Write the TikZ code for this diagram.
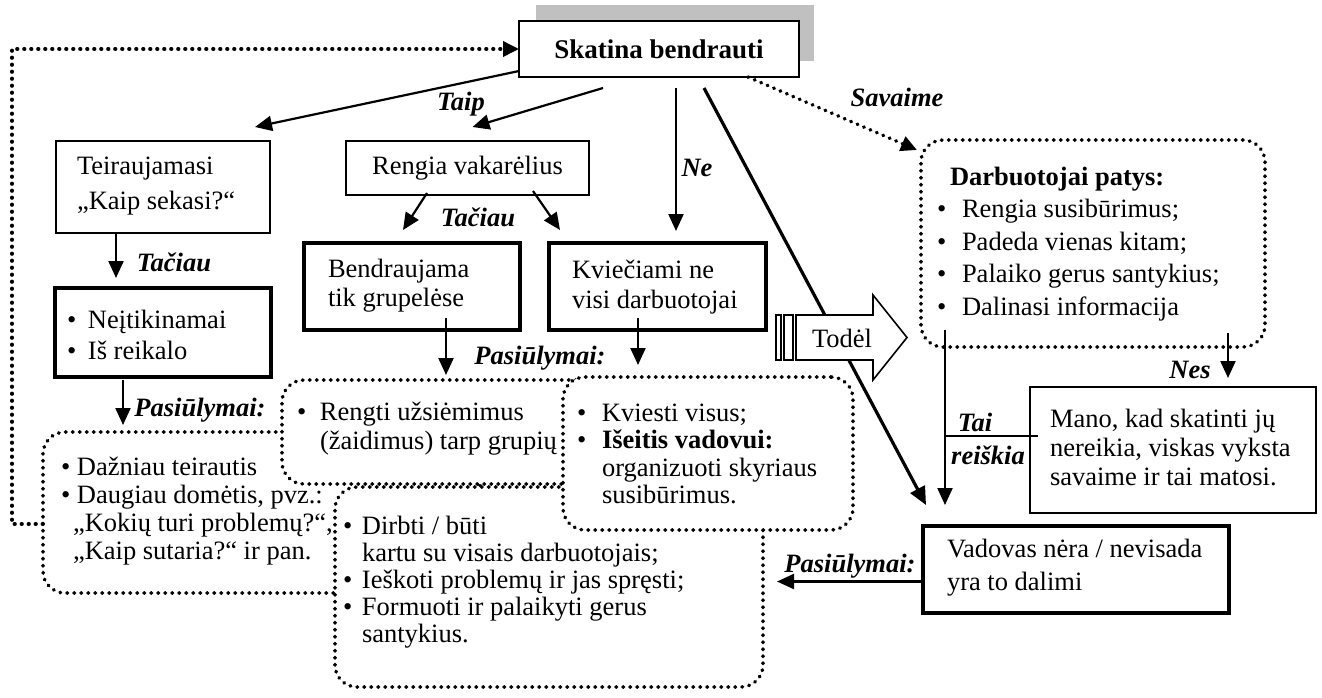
\documentclass[tikz,border=0pt]{standalone}
\usepackage{fontspec}
\setmainfont{Liberation Serif}
\usetikzlibrary{arrows.meta,calc,backgrounds}
\definecolor{shadowgray}{RGB}{192,192,192}
% bullet in a fixed-width slot, for hanging lists
\newcommand{\itm}[1]{\makebox[#1][l]{\textbullet}}

\begin{document}
\begin{tikzpicture}[x=1pt,y=-1pt,
  every node/.style={inner sep=0pt, outer sep=0pt},
  body/.style={font=\fontsize{26.5}{#1}\selectfont},
  body/.default=30,
  txt/.style={body=#1, align=left, anchor=west},
  txt/.default=30,
  lab/.style={font=\fontsize{26.5}{30}\selectfont\bfseries\itshape},
  thinbox/.style={draw, line width=2pt, fill=white},
  thickbox/.style={draw, line width=4pt, fill=white},
  dots/.style={line width=3.6pt, dash pattern=on 0.6pt off 6.4pt, line cap=round},
  dotbox/.style={draw, dots, rounded corners=22pt, fill=white},
  conn/.style={line width=2.2pt, -{Triangle[length=17pt,width=15pt]}},
  dotconn/.style={dots, -{Triangle[length=16pt,width=15pt]}},
]
\useasboundingbox (0,0) rectangle (1322,697);

% top box with its grey shadow
\node[thinbox, minimum width=280pt, minimum height=56pt, font=\fontsize{27}{30}\selectfont\bfseries] (skat) at (659,49) {Skatina bendrauti};
\begin{scope}[on background layer]
  \fill[shadowgray] ($(skat.south west)+(17,-16)$) rectangle ($(skat.north east)+(15,-16)$);
\end{scope}

% second row
\node[thinbox, minimum width=214pt, minimum height=92pt] (teir) at (163,187) {};
\node[txt=35] (teirT) at (77,186) {Teiraujamasi\\„Kaip sekasi?“};

\node[thinbox, minimum width=243pt, minimum height=54pt, body] (reng) at (467.5,168) {Rengia vakarėlius};

% problem boxes
\node[thickbox, minimum width=216pt, minimum height=89pt] (neit) at (163,332.5) {};
\node[txt=31] (neitT) at (67,335) {\itm{21pt}Neįtikinamai\\\itm{21pt}Iš reikalo};

\node[thickbox, minimum width=216pt, minimum height=87pt] (bend) at (412,286.5) {};
\node[txt=29] (bendT) at (328,286) {Bendraujama\\tik grupelėse};

\node[thickbox, minimum width=217pt, minimum height=87pt] (kvie) at (657.5,286.5) {};
\node[txt=30] (kvieT) at (572,287) {Kviečiami ne\\visi darbuotojai};

% right-hand side
\node[dotbox, minimum width=344pt, minimum height=207pt] (darb) at (1093,243.5) {};
\node[txt=32.5] (darbT) at (937,244) {\hspace*{13pt}\textbf{Darbuotojai patys:}\\\itm{25pt}Rengia susibūrimus;\\\itm{25pt}Padeda vienas kitam;\\\itm{25pt}Palaiko gerus santykius;\\\itm{25pt}Dalinasi informacija};

\node[thinbox, minimum width=286pt, minimum height=126pt] (mano) at (1173,450) {};
\node[txt=29] (manoT) at (1050,447) {Mano, kad skatinti jų\\nereikia, viskas vyksta\\savaime ir tai matosi.};

\node[thickbox, minimum width=306pt, minimum height=87pt] (vado) at (1076,569.5) {};
\node[txt=33] (vadoT) at (947,568) {Vadovas nėra / nevisada\\yra to dalimi};

% overlapping suggestion boxes (later ones cover earlier ones)
\node[dotbox, minimum width=437pt, minimum height=161pt] (dazn) at (261.5,512.5) {};
\node[txt=28] (daznT) at (61,511) {\itm{16pt}Dažniau teirautis\\\itm{16pt}Daugiau domėtis, pvz.:\\\hspace*{12pt}„Kokių turi problemų?“,\\\hspace*{12pt}„Kaip sutaria?“ ir pan.};

\node[dotbox, minimum width=358pt, minimum height=104pt] (reng2) at (461,432) {};
\node[txt=29] (reng2T) at (297,429) {\itm{23pt}Rengti užsiėmimus\\\hspace*{23pt}(žaidimus) tarp grupių};

\node[dotbox, minimum width=428pt, minimum height=200pt] (dirb) at (549,587) {};
\node[txt=27] (dirbT) at (343,582) {\itm{19pt}Dirbti / būti\\\hspace*{19pt}kartu su visais darbuotojais;\\\itm{19pt}Ieškoti problemų ir jas spręsti;\\\itm{19pt}Formuoti ir palaikyti gerus\\\hspace*{19pt}santykius.};

\node[dotbox, minimum width=290pt, minimum height=153pt] (kvi2) at (708,453.5) {};
\node[txt=27.5] (kvi2T) at (577,454) {\itm{25pt}Kviesti visus;\\\itm{25pt}\textbf{Išeitis vadovui:}\\\hspace*{25pt}organizuoti skyriaus\\\hspace*{25pt}susibūrimus.};

% long line to the leader box, partly hidden by the block arrow
\draw[line width=3.2pt, -{Triangle[length=18pt,width=16pt]}] ($(skat.south)+(45,11)$) -- ($(vado.north west)+(3,-21)$);

% striped block arrow
\draw[line width=1.6pt, fill=white] (796,315) -- (873,315) -- (873,295) -- (907,337.5) -- (873,380) -- (873,360) -- (796,360) -- cycle;
\draw[line width=1.6pt, fill=white] (776,315) rectangle (781,360);
\draw[line width=1.6pt, fill=white] (784,315) rectangle (793,360);
\node[body] (todel) at (842,338) {Todėl};

% connectors
\draw[conn] ($(skat.south west)+(0,-6)$) -- ($(teir.north east)+(-15,-14)$);
\draw[conn] ($(skat.south west)+(84,11)$) -- ($(reng.north)+(5,-14)$);
\draw[conn] ($(skat.south)+(17,11)$) -- ($(kvie.north)+(18.5,-12)$);
\draw[dotconn] ($(skat.south)+(89,0)$) -- ($(darb.north west)+(-4,10)$);
\draw[conn] ($(teir.south)+(-47,0)$) -- ($(neit.north)+(-47,-10)$);
\draw[conn] ($(neit.south)+(-40,3)$) -- ($(dazn.north west)+(80,-7)$);
\draw[conn] ($(reng.south)+(-40.5,-2)$) -- ($(bend.north)+(-9,-13)$);
\draw[conn] ($(reng.south)+(65.5,-4)$) -- ($(kvie.north west)+(11,-13)$);
\draw[conn] ($(bend.south)+(34,-12)$) -- ($(reng2.north west)+(164,-5)$);
\draw[conn] ($(kvie.south)+(-19.5,-12)$) -- ($(kvi2.north west)+(75,-12)$);
\draw[conn] ($(darb.south east)+(-37,-14)$) -- ($(mano.north east)+(-88,-9)$);
\draw[conn] ($(darb.south west)+(24,-17)$) -- ($(vado.north west)+(22,-21)$);
\coordinate (tr) at ($(darb.south west)+(24,89)$);
\draw[line width=2.2pt] (tr) -- ($(mano.west |- tr)+(8,0)$);
\coordinate (pv) at ($(vado.west)+(0,12)$);
\draw[conn] (pv) -- ($(dirb.east |- pv)+(14,0)$);
\coordinate (fb) at (12,524);
\draw[dotconn] (dazn.west |- fb) -- (fb) |- (skat.west);

% connector labels
\node[lab] (taipL) at (461,104) {Taip};
\node[lab] (tac1L) at (174,262) {Tačiau};
\node[lab] (tac2L) at (478,217) {Tačiau};
\node[lab] (neL) at (697,168) {Ne};
\node[lab] (savL) at (897,97) {Savaime};
\node[lab] (pas1L) at (200,410) {Pasiūlymai:};
\node[lab] (pas2L) at (540,358) {Pasiūlymai:};
\node[lab] (pas3L) at (850,566) {Pasiūlymai:};
\node[lab] (nesL) at (1190,370) {Nes};
\node[lab] (taiL) at (975,422) {Tai};
\node[lab] (reiL) at (988,455) {reiškia};
\end{tikzpicture}
\end{document}
